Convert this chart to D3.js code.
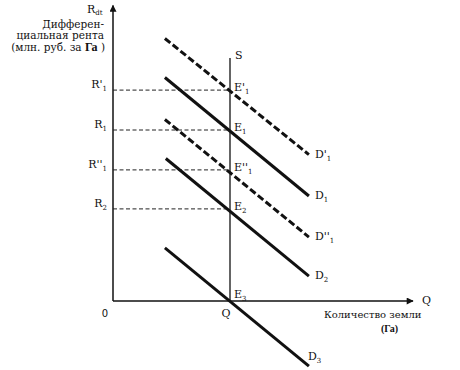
<!DOCTYPE html>
<html>
<head>
<meta charset="utf-8">
<script src="https://cdn.jsdelivr.net/npm/d3@7"></script>
<style>
  body { margin: 0; background: #fff; }
  svg text { font-family: "DejaVu Serif", "Liberation Serif", serif; fill: #111; }
</style>
</head>
<body>
<div id="chart"></div>
<script>
// demand curves (data units: land quantity, rent)
var curveNames = ["D'", "D", "D''", "D", "D"];
var curveSubs = ["1", "1", "1", "2", "3"];
var curveDashed = [true, false, true, false, false];
var curveStart = [[17.3, 87.5], [17.3, 74.5], [17.3, 60.5], [17.6, 47.5], [17.3, 17.7]];
var curveEnd = [[65.3, 48.8], [65.3, 35.0], [65.3, 21.3], [65.3, 8.3], [65.3, -21.7]];

// rent levels
var levelNames = ["R'", "R", "R''", "R"];
var levelSubs = ["1", "1", "1", "2"];
var levelValues = [70.3, 57.0, 43.7, 30.7];
var pointNames = ["E'", "E", "E''", "E"];

var qSupply = 39;   // fixed land supply
var sTop = 81;

var width = 460, height = 370;

var x = d3.scaleLinear().domain([0, 100]).range([113, 413]);
var y = d3.scaleLinear().domain([0, 100]).range([301, 1]);

var svg = d3.select('#chart').append('svg')
  .attr('width', width)
  .attr('height', height);

var defs = svg.append('defs');
defs.append('marker')
  .attr('id', 'arrow')
  .attr('viewBox', '0 0 10 10')
  .attr('refX', 9).attr('refY', 5)
  .attr('markerWidth', 9).attr('markerHeight', 7)
  .attr('markerUnits', 'userSpaceOnUse')
  .attr('orient', 'auto')
  .append('path').attr('d', 'M0,0 L10,5 L0,10 z').attr('fill', '#111');

// axes
svg.append('line')
  .attr('x1', x(0)).attr('y1', y(0))
  .attr('x2', x(0)).attr('y2', y(98.5))
  .attr('stroke', '#111').attr('stroke-width', 1.5)
  .attr('marker-end', 'url(#arrow)');
svg.append('line')
  .attr('x1', x(0)).attr('y1', y(0))
  .attr('x2', x(100)).attr('y2', y(0))
  .attr('stroke', '#111').attr('stroke-width', 1.3)
  .attr('marker-end', 'url(#arrow)');

// supply line S
svg.append('line')
  .attr('x1', x(qSupply)).attr('y1', y(0))
  .attr('x2', x(qSupply)).attr('y2', y(sTop))
  .attr('stroke', '#111').attr('stroke-width', 1.3);

// horizontal dashed guides
svg.selectAll('.guide').data(levelValues)
  .enter().append('line')
    .attr('class', 'guide')
    .attr('x1', x(0)).attr('x2', x(qSupply))
    .attr('y1', function(d) { return y(d); })
    .attr('y2', function(d) { return y(d); })
    .attr('stroke', '#222').attr('stroke-width', 1)
    .attr('stroke-dasharray', '4,2.5');

// demand curves
svg.selectAll('.curve').data(curveStart)
  .enter().append('line')
    .attr('class', 'curve')
    .attr('x1', function(d) { return x(d[0]); })
    .attr('y1', function(d) { return y(d[1]); })
    .attr('x2', function(d, i) { return x(curveEnd[i][0]); })
    .attr('y2', function(d, i) { return y(curveEnd[i][1]); })
    .attr('stroke', '#111')
    .attr('stroke-width', 3)
    .attr('stroke-dasharray', function(d, i) { return curveDashed[i] ? '7,3' : null; });

function subLabel(g, name, sub, px, py, anchor, subDy) {
  var t = g.append('text')
    .attr('x', px).attr('y', py)
    .attr('font-size', 11)
    .attr('text-anchor', anchor || 'start');
  t.append('tspan').text(name);
  t.append('tspan').attr('dy', subDy == null ? 3 : subDy).attr('font-size', 7).text(sub);
  return t;
}

// curve labels (the last one sits above its line end)
curveNames.forEach(function(n, i) {
  var last = i === curveNames.length - 1;
  subLabel(svg, n, curveSubs[i],
    x(curveEnd[i][0]) + (last ? -1 : 6),
    y(curveEnd[i][1]) + (last ? -6 : 3));
});

// level labels on the vertical axis
levelNames.forEach(function(n, i) {
  subLabel(svg, n, levelSubs[i], x(0) - 6, y(levelValues[i]) - 2, 'end');
});

// equilibrium labels
pointNames.forEach(function(n, i) {
  subLabel(svg, n, levelSubs[i], x(qSupply) + 4, y(levelValues[i]) + 1);
});
subLabel(svg, 'E', '3', x(qSupply) + 4, y(0) - 3);

svg.append('text').attr('x', x(qSupply) + 5).attr('y', y(sTop) + 1)
  .attr('font-size', 11).text('S');

// axis labels
svg.append('text').attr('x', x(qSupply) - 4).attr('y', y(0) + 16)
  .attr('font-size', 11).attr('text-anchor', 'middle').text('Q');
svg.append('text').attr('x', x(0) - 8).attr('y', y(0) + 16)
  .attr('font-size', 10).attr('text-anchor', 'middle')
  .style('font-family', 'DejaVu Sans, sans-serif').text('0');
svg.append('text').attr('x', x(100) + 9).attr('y', y(0) + 3)
  .attr('font-size', 11).text('Q');
svg.append('text').attr('x', 324).attr('y', y(0) + 17)
  .attr('font-size', 10).text('Количество земли');
svg.append('text').attr('x', 381).attr('y', y(0) + 31)
  .attr('font-size', 10).attr('font-weight', 'bold')
  .style('font-family', 'Liberation Serif, serif').text('(Га)');

subLabel(svg, 'R', 'dt', 87, 13, 'start', 2);
svg.append('text').attr('x', 104).attr('y', 28)
  .attr('font-size', 10.5).attr('text-anchor', 'end').text('Дифферен-');
svg.append('text').attr('x', 104).attr('y', 39)
  .attr('font-size', 10.5).attr('text-anchor', 'end').text('циальная рента');
var unit = svg.append('text').attr('x', 105).attr('y', 51)
  .attr('font-size', 10.5).attr('text-anchor', 'end');
unit.append('tspan').text('(млн. руб. за ');
unit.append('tspan').attr('font-weight', 'bold').attr('font-size', 12)
  .style('font-family', 'Liberation Serif, serif').text('Га');
unit.append('tspan').text(' )');
</script>
</body>
</html>
